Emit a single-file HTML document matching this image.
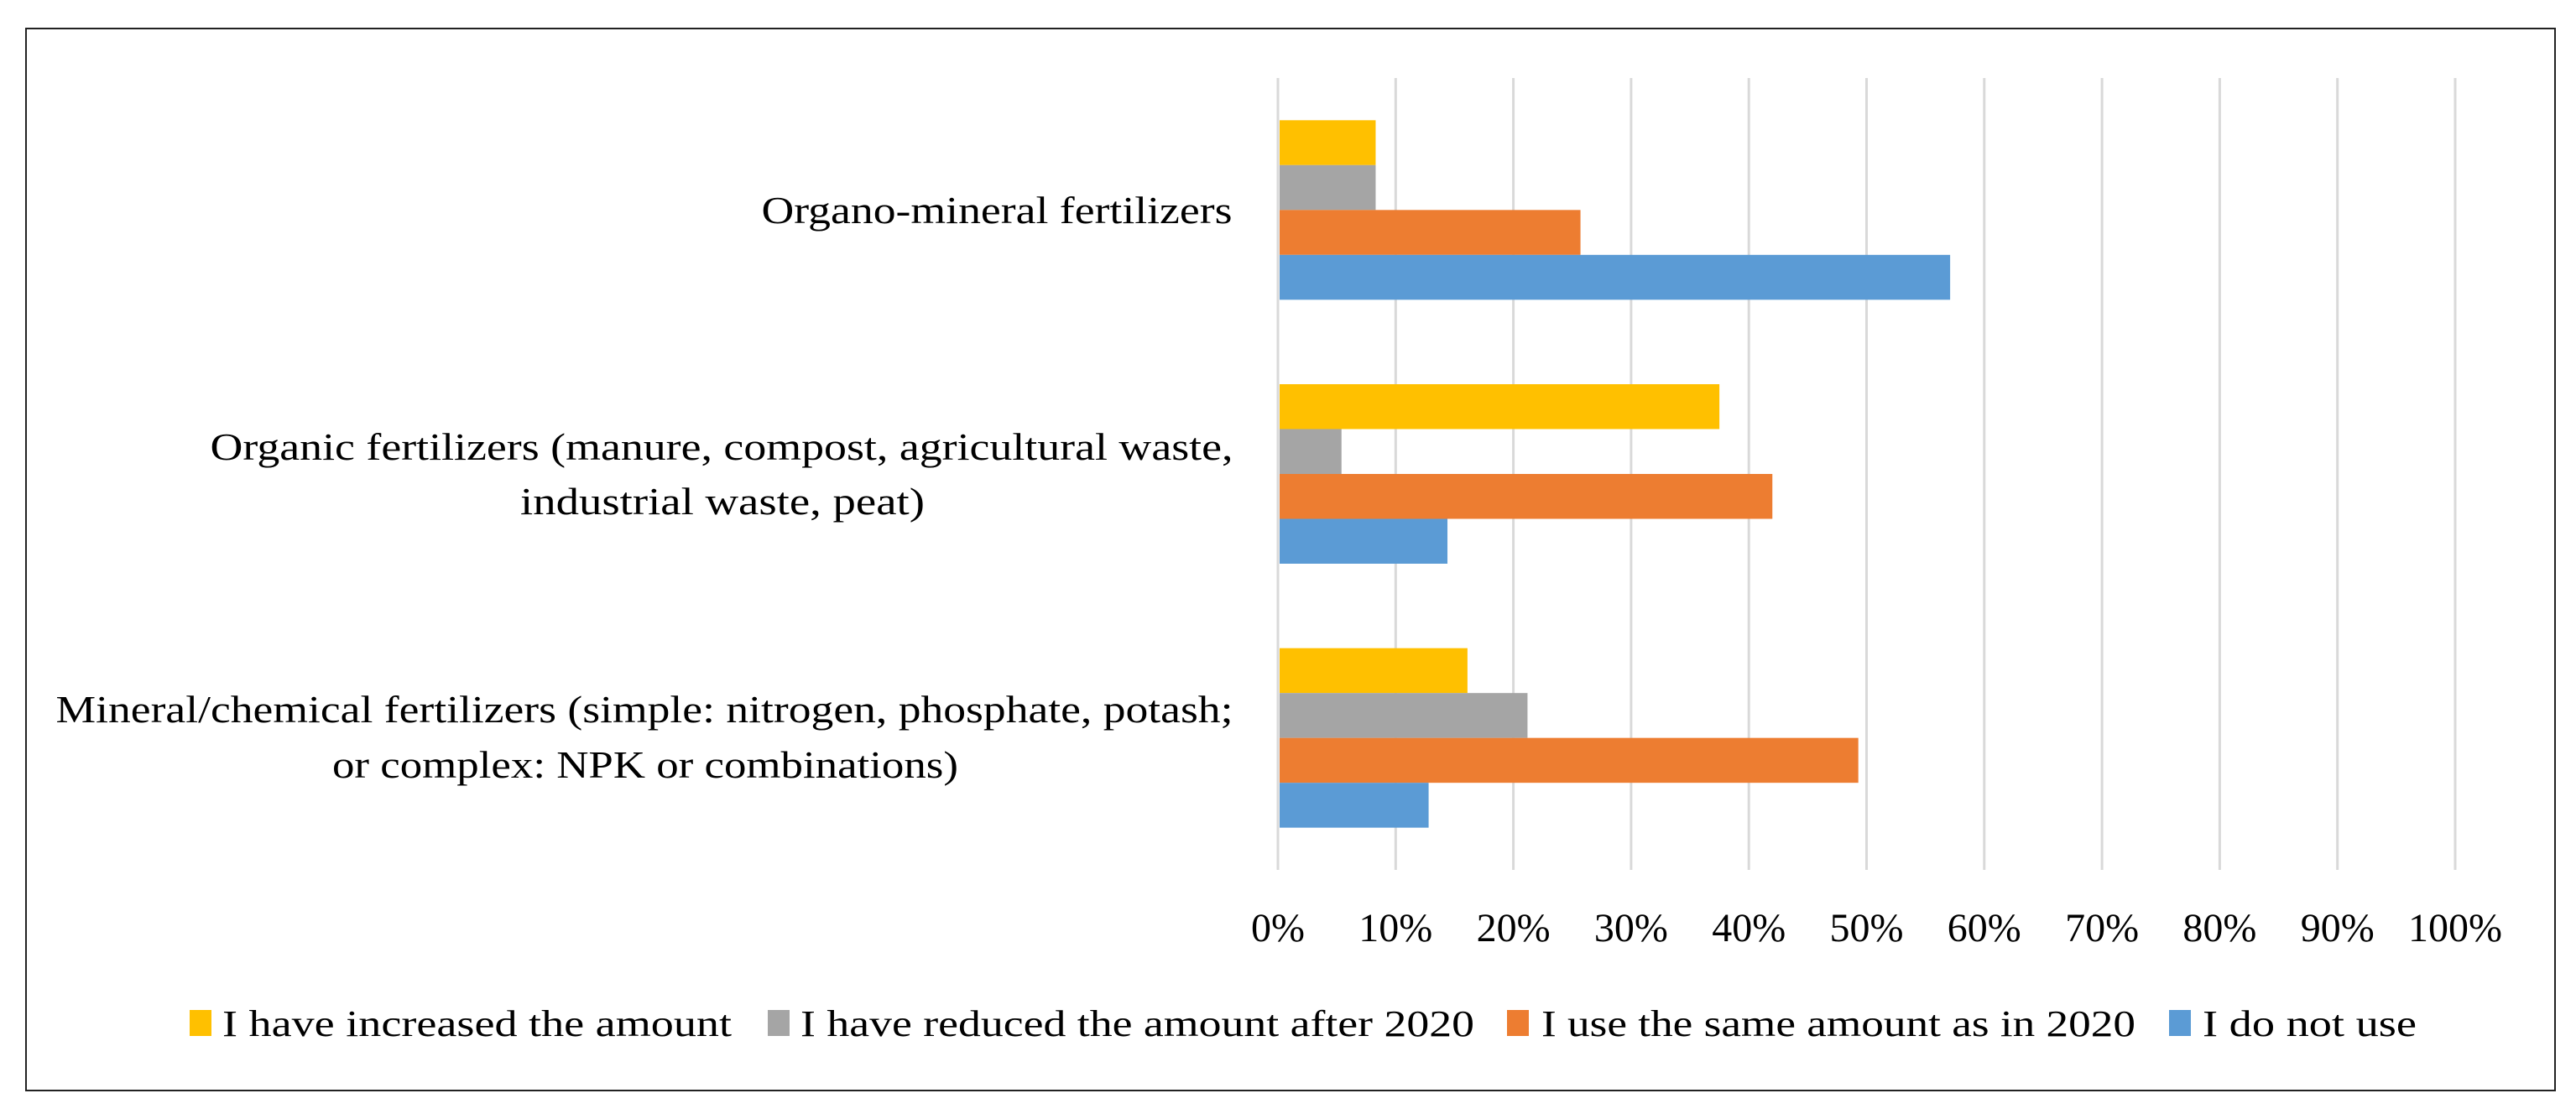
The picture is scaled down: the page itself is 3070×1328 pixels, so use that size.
<!DOCTYPE html>
<html><head><meta charset="utf-8"><style>
html,body{margin:0;padding:0;background:#fff;}
svg{display:block;}
text{font-family:"Liberation Serif",serif;fill:#000;}
</style></head><body>
<svg id="chart" width="3070" height="1328" viewBox="0 0 3070 1328" xmlns="http://www.w3.org/2000/svg">
<rect x="31" y="34" width="3014" height="1266" fill="#fff" stroke="#222" stroke-width="2"/>
<g id="grid"></g><g id="bars"></g><g id="ticks"></g><g id="cats"></g><g id="legend"></g>
</svg>
<script>
const categories = [
  ["Organo-mineral fertilizers"],
  ["Organic fertilizers (manure, compost, agricultural waste,", "industrial waste, peat)"],
  ["Mineral/chemical fertilizers (simple: nitrogen, phosphate, potash;", "or complex: NPK or combinations)"]
];
const seriesNames = ["I have increased the amount","I have reduced the amount after 2020","I use the same amount as in 2020","I do not use"];
const increased = [8.3, 37.5, 16.1];
const reduced = [8.3, 5.4, 21.2];
const same = [25.7, 42.0, 49.3];
const notUse = [57.1, 14.4, 12.8];
const tickValues = [0,10,20,30,40,50,60,70,80,90,100];
const tickLabels = ["0%","10%","20%","30%","40%","50%","60%","70%","80%","90%","100%"];

const NS="http://www.w3.org/2000/svg";
const X0=1523, X1=2926, Y0=93, Y1=1037;
const xs=v=>X0+(X1-X0)*v/100;
const band=(Y1-Y0)/categories.length;
const barH=53.5;
const colors=["#FFC000","#A5A5A5","#ED7D31","#5B9BD5"];
const series=[increased,reduced,same,notUse];
function mk(tag,attrs,parent){const e=document.createElementNS(NS,tag);for(const k in attrs)e.setAttribute(k,attrs[k]);parent.appendChild(e);return e;}
const grid=document.getElementById('grid'),bars=document.getElementById('bars'),ticks=document.getElementById('ticks'),cats=document.getElementById('cats'),legend=document.getElementById('legend');
tickValues.forEach((v,i)=>{
  const l=mk('line',{x1:xs(v),x2:xs(v),y1:Y0,y2:Y1,stroke:'#d9d9d9','stroke-width':3},grid);
  
  
  const t=mk('text',{x:xs(v),y:1122,'text-anchor':'middle','font-size':48},ticks);
  t.textContent=tickLabels[i];
  
  
});
categories.forEach((c,ci)=>{
  const center=Y0+band*ci+band/2;
  const top=center-2*barH;
  series.forEach((s,si)=>{
    const r=mk('rect',{x:X0+2,y:top+si*barH,width:Math.max(0,xs(s[ci])-X0-2),height:barH,fill:colors[si]},bars);
    
    
  });
});
const catPos=[[{x:1188,y:266,w:561}],[{x:860,y:548,w:1219},{x:861,y:613,w:482}],[{x:768,y:861,w:1403},{x:769,y:927,w:746}]];
categories.forEach((c,ci)=>{
  c.forEach((line,li)=>{
    const p=catPos[ci][li];
    const t=mk('text',{x:p.x,y:p.y,'text-anchor':'middle','font-size':46,textLength:p.w,lengthAdjust:'spacingAndGlyphs'},cats);
    t.textContent=line;
    
    
  });
});
const legPos=[{sx:226,tx:265,w:607},{sx:915,tx:954,w:803},{sx:1796,tx:1837,w:708},{sx:2585,tx:2625,w:255}];
seriesNames.forEach((n,i)=>{
  const p=legPos[i];
  const r=mk('rect',{x:p.sx,y:1204,width:26,height:31,fill:colors[i]},legend);
  
  
  const t=mk('text',{x:p.tx,y:1235,'font-size':44,textLength:p.w,lengthAdjust:'spacingAndGlyphs'},legend);
  t.textContent=n;
  
  
});
</script>
</body></html>
